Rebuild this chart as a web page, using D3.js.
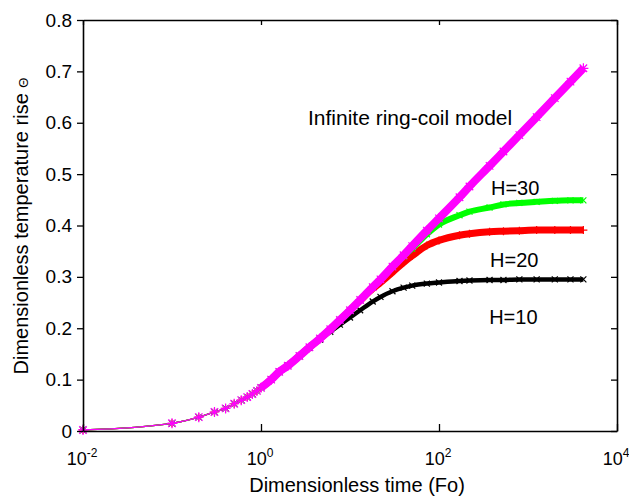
<!DOCTYPE html>
<html>
<head>
<meta charset="utf-8">
<script src="https://cdn.jsdelivr.net/npm/d3@7"></script>
<style>
  html, body { margin: 0; padding: 0; background: #fff; }
  svg { display: block; font-family: "Liberation Sans", Arial, sans-serif; }
</style>
</head>
<body>
<svg id="chart" width="629" height="498"></svg>
<script>
// ---- data ----
const fo = [0.01, 0.1, 0.2, 0.3, 0.4, 0.5, 0.6, 0.7, 0.8, 0.9, 1.0, 1.3, 1.6, 2, 2.7, 3.5, 4.6, 6, 7.7, 10, 13, 18, 22, 30, 40, 50, 73, 100, 170, 220, 370, 530, 800, 1250, 2000, 3000, 4190];
const thetaInfinite = [0.002, 0.015, 0.027, 0.037, 0.044, 0.053, 0.060, 0.066, 0.072, 0.078, 0.084, 0.100, 0.115, 0.127, 0.146, 0.163, 0.180, 0.198, 0.216, 0.235, 0.255, 0.280, 0.295, 0.320, 0.342, 0.360, 0.390, 0.414, 0.455, 0.476, 0.516, 0.544, 0.576, 0.611, 0.648, 0.680, 0.706];
const thetaH30 = [0.002, 0.015, 0.027, 0.037, 0.044, 0.053, 0.060, 0.066, 0.072, 0.078, 0.084, 0.100, 0.115, 0.127, 0.146, 0.163, 0.180, 0.198, 0.216, 0.235, 0.255, 0.280, 0.295, 0.319, 0.340, 0.355, 0.383, 0.402, 0.420, 0.427, 0.435, 0.441, 0.444, 0.446, 0.448, 0.449, 0.449];
const thetaH20 = [0.002, 0.015, 0.027, 0.037, 0.044, 0.053, 0.060, 0.066, 0.072, 0.078, 0.084, 0.100, 0.115, 0.127, 0.146, 0.163, 0.180, 0.198, 0.216, 0.235, 0.254, 0.277, 0.289, 0.309, 0.328, 0.341, 0.361, 0.371, 0.381, 0.384, 0.388, 0.389, 0.390, 0.391, 0.391, 0.391, 0.391];
const thetaH10 = [0.002, 0.015, 0.027, 0.037, 0.044, 0.053, 0.060, 0.066, 0.072, 0.078, 0.084, 0.100, 0.115, 0.127, 0.146, 0.162, 0.178, 0.193, 0.207, 0.221, 0.235, 0.252, 0.261, 0.272, 0.279, 0.283, 0.287, 0.289, 0.292, 0.293, 0.294, 0.294, 0.295, 0.295, 0.295, 0.295, 0.295];
const xTickExponents = [-2, 0, 2, 4];
const yTickValues = [0, 0.1, 0.2, 0.3, 0.4, 0.5, 0.6, 0.7, 0.8];
const labels = [
  { text: "Infinite ring-coil model", fo: 3.37, theta: 0.595, size: 21 },
  { text: "H=30", fo: 384, theta: 0.459, size: 20 },
  { text: "H=20", fo: 375, theta: 0.320, size: 20 },
  { text: "H=10", fo: 366, theta: 0.208, size: 20 }
];

// ---- layout ----
const svg = d3.select("#chart");
const m = { left: 83, right: 617, top: 20, bottom: 431 };
const x = d3.scaleLog().domain([0.01, 10000]).range([m.left, m.right]);
const y = d3.scaleLinear().domain([0, 0.8]).range([m.bottom, m.top]);

const series = [
  { name: "H=10", values: thetaH10, color: "#000000", marker: "x", ms: 3, band: 4.5 },
  { name: "H=20", values: thetaH20, color: "#ff0000", marker: "+", ms: 4, band: 7 },
  { name: "H=30", values: thetaH30, color: "#00ff00", marker: "x", ms: 3, band: 6 },
  { name: "Infinite", values: thetaInfinite, color: "#ff00ff", marker: "*", ms: 5, band: 8 }
];

const line = d3.line().x(d => x(d[0])).y(d => y(d[1])).curve(d3.curveMonotoneX);

function markerPath(type, s) {
  const plus = `M${-s},0L${s},0M0,${-s}L0,${s}`;
  const cross = `M${-s},${-s}L${s},${s}M${-s},${s}L${s},${-s}`;
  if (type === "+") return plus;
  if (type === "x") return cross;
  return plus + `M${-s*0.75},${-s*0.75}L${s*0.75},${s*0.75}M${-s*0.75},${s*0.75}L${s*0.75},${-s*0.75}`;
}

const plot = svg.append("g");
series.forEach(s => {
  const pts = fo.map((f, i) => [f, s.values[i]]);
  const g = plot.append("g");
  // dense-marker band
  g.append("path")
    .datum(pts.filter(p => p[0] >= 1))
    .attr("d", line)
    .attr("fill", "none")
    .attr("stroke", s.color)
    .attr("stroke-width", s.band)
    .attr("stroke-linejoin", "round");
  // connecting line
  g.append("path")
    .datum(pts)
    .attr("d", line)
    .attr("fill", "none")
    .attr("stroke", s.color)
    .attr("stroke-width", 1.2);
  // markers
  g.selectAll("path.mk")
    .data(pts)
    .join("path")
    .attr("class", "mk")
    .attr("transform", d => `translate(${x(d[0])},${y(d[1])})`)
    .attr("d", markerPath(s.marker, s.ms))
    .attr("fill", "none")
    .attr("stroke", s.color)
    .attr("stroke-width", 1.2);
});

// ---- axes ----
const xTickValues = xTickExponents.map(e => Math.pow(10, e));
function styleAxis(g) {
  g.selectAll(".domain").attr("stroke", "#000").attr("stroke-width", 1.6);
  g.selectAll(".tick line").attr("stroke", "#000").attr("stroke-width", 1.3);
}
svg.append("g").attr("transform", `translate(0,${m.bottom})`)
  .call(d3.axisBottom(x).tickValues(xTickValues).tickSize(-7).tickSizeOuter(0).tickFormat(""))
  .call(styleAxis);
svg.append("g").attr("transform", `translate(0,${m.top})`)
  .call(d3.axisTop(x).tickValues(xTickValues).tickSize(-5).tickSizeOuter(0).tickFormat(""))
  .call(styleAxis);
svg.append("g").attr("transform", `translate(${m.left},0)`)
  .call(d3.axisLeft(y).tickValues(yTickValues).tickSize(6).tickSizeOuter(0).tickPadding(5)
    .tickFormat(d => d === 0 ? "0" : d3.format(".1f")(d)))
  .call(styleAxis)
  .call(g => g.selectAll(".tick text").attr("font-size", 19).attr("fill", "#000")
    .attr("font-family", "Liberation Sans, Arial, sans-serif"));
svg.append("g").attr("transform", `translate(${m.right},0)`)
  .call(d3.axisRight(y).tickValues(yTickValues).tickSize(-6).tickSizeOuter(0).tickFormat(""))
  .call(styleAxis);

// x tick labels with superscripts
const xl = svg.append("g");
xTickExponents.forEach(e => {
  const t = xl.append("text")
    .attr("x", x(Math.pow(10, e)) - 1)
    .attr("y", 465)
    .attr("text-anchor", "middle")
    .attr("font-size", 18)
    .attr("fill", "#000");
  t.append("tspan").text("10");
  t.append("tspan").attr("dy", -8).attr("font-size", 12).text(String(e));
});

// axis titles
svg.append("text")
  .attr("x", 357).attr("y", 492)
  .attr("text-anchor", "middle")
  .attr("font-size", 20)
  .attr("fill", "#000")
  .text("Dimensionless time (Fo)");

const yt = svg.append("text")
  .attr("transform", "translate(28,226) rotate(-90)")
  .attr("text-anchor", "middle")
  .attr("font-size", 20)
  .attr("fill", "#000");
yt.append("tspan").text("Dimensionless temperature rise ");
yt.append("tspan").attr("font-size", 13).text("Θ");

// in-plot labels
svg.selectAll("text.lbl")
  .data(labels)
  .join("text")
  .attr("class", "lbl")
  .attr("x", d => x(d.fo))
  .attr("y", d => y(d.theta))
  .attr("font-size", d => d.size)
  .attr("fill", "#000")
  .text(d => d.text);
</script>
</body>
</html>
